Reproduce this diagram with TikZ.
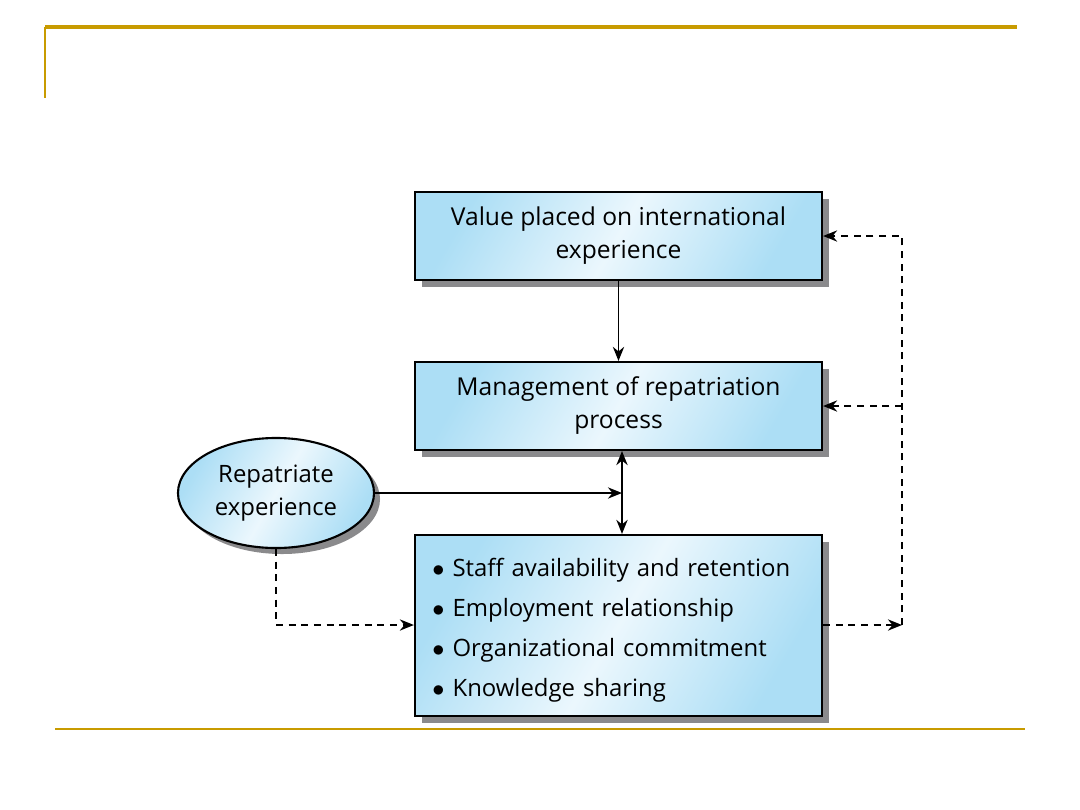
\documentclass[tikz,border=0pt]{standalone}
\usepackage{fontspec}
\setmainfont{Open Sans}
\usepackage{xcolor}
\usepackage{tikz}
\usetikzlibrary{positioning, arrows.meta, shapes.geometric, shadows, calc}

\definecolor{gold}{RGB}{200,155,0}
\definecolor{skyblue}{RGB}{172,222,245}
\definecolor{paleblue}{RGB}{235,247,253}
\definecolor{shadowgray}{RGB}{138,138,140}

\begin{document}
\begin{tikzpicture}[x=0.025cm, y=-0.025cm,
    blockbox/.style={rectangle, draw, line width=1.5pt, minimum width=10.175cm, minimum height=2.2cm,
        align=center, font=\fontsize{17.5}{23.5}\selectfont,
        left color=skyblue, right color=skyblue, middle color=paleblue, shading angle=60,
        drop shadow={shadow xshift=0.18cm, shadow yshift=-0.18cm, fill=shadowgray, opacity=1}},
    blockoval/.style={ellipse, draw, line width=1.5pt, minimum width=4.9cm, minimum height=2.75cm,
        inner sep=0pt, align=center, font=\fontsize{17}{23.5}\selectfont,
        left color=skyblue, right color=skyblue, middle color=paleblue, shading angle=60,
        drop shadow={shadow xshift=0.15cm, shadow yshift=-0.15cm, fill=shadowgray, opacity=1}},
    link/.style={line width=1.3pt, -{Stealth[length=10pt, width=8pt]}},
    dlink/.style={link, dash pattern=on 5pt off 4pt}]
    \useasboundingbox (0,0) rectangle (1080,810);

    % slide frame
    \draw[gold, line width=2.2pt] (45,27) -- (1017,27);
    \draw[gold, line width=1.4pt] (45,27) -- (45,98);
    \draw[gold, line width=1.4pt] (55,729) -- (1025,729);

    \node[blockbox] (value) at (618.5,236) {Value placed on international\\experience};
    \node[blockbox] (manage) at (618.5,406) {Management of repatriation\\process};
    \node[blockbox, minimum height=4.525cm, text width=9.3cm, inner xsep=0.425cm, align=left,
        font=\fontsize{17}{28.5}\selectfont] (outcome) at (618.5,625.5)
        {\rule{0pt}{20pt}$\bullet$ Staff availability and retention\\
         $\bullet$ Employment relationship\\
         $\bullet$ Organizational commitment\\
         $\bullet$ Knowledge sharing};
    \node[blockoval] (repat) at (276,493) {Repatriate\\experience};

    \coordinate (meet) at (622,493);
    \coordinate (corner) at (276,625);
    \coordinate (rail) at (902,625);

    \draw[link] (value) -- (manage);
    \draw[link, {Stealth[length=10pt, width=8pt]}-{Stealth[length=10pt, width=8pt]}]
        (manage.south -| meet) -- (outcome.north -| meet);
    \draw[link] (repat) -- (meet);

    \draw[dlink] (repat.south) -- (corner) -- (outcome.west |- corner);
    \draw[dlink] (outcome.east |- rail) -- (rail);
    \draw[dlink] (rail) -- (rail |- value) -- (value.east);
    \draw[dlink] (rail |- manage) -- (manage.east);
\end{tikzpicture}
\end{document}
